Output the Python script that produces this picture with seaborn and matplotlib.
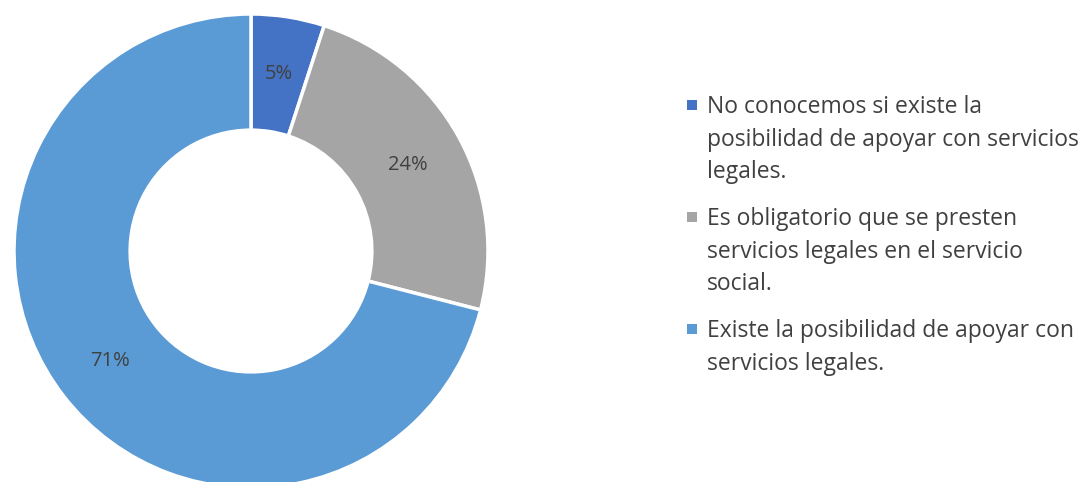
import matplotlib
matplotlib.use('Agg')
import matplotlib.pyplot as plt
import seaborn as sns
import numpy as np
from matplotlib.patches import Rectangle

sns.set_theme(style='white')
plt.rcParams['font.family'] = ['Open Sans', 'DejaVu Sans']

labels = [
    'No conocemos si existe la\nposibilidad de apoyar con servicios\nlegales.',
    'Es obligatorio que se presten\nservicios legales en el servicio\nsocial.',
    'Existe la posibilidad de apoyar con\nservicios legales.',
]
values = [5, 24, 71]
pct_labels = ['5%', '24%', '71%']
colors = ['#4472C4', '#A5A5A5', '#5B9BD5']
text_color = '#404040'

fig = plt.figure(figsize=(10.89, 4.82), dpi=100)
W, H = 1089, 482
cx, cy, r = 251, 251, 237
ax = fig.add_axes([(cx - r) / W, (H - cy - r) / H, 2 * r / W, 2 * r / H])

wedges, _ = ax.pie(values, colors=colors, startangle=90, counterclock=False,
                   radius=1, wedgeprops=dict(width=0.49, edgecolor='white', linewidth=2.5))
for w, lab in zip(wedges, pct_labels):
    ang = np.deg2rad((w.theta1 + w.theta2) / 2)
    rr = 0.755
    ax.text(rr * np.cos(ang), rr * np.sin(ang), lab, ha='center', va='center',
            fontsize=14.5, color=text_color)
ax.set_xlim(-1, 1)
ax.set_ylim(-1, 1)
ax.set_aspect('equal')
ax.axis('off')

# legend drawn by hand so the square sits next to the first line
x_sq, x_txt = 687, 707
line_h, gap = 32.5, 14.5
y = 113
for c, lab in zip(colors, labels):
    lines = lab.split('\n')
    fig.patches.append(Rectangle((x_sq / W, 1 - (y - 3) / H), 10 / W, 10 / H,
                                 transform=fig.transFigure, facecolor=c, edgecolor='none'))
    for ln in lines:
        fig.text(x_txt / W, 1 - y / H, ln, ha='left', va='baseline',
                 fontsize=16.5, color=text_color)
        y += line_h
    y += gap

fig.savefig('out.png', dpi=100)
